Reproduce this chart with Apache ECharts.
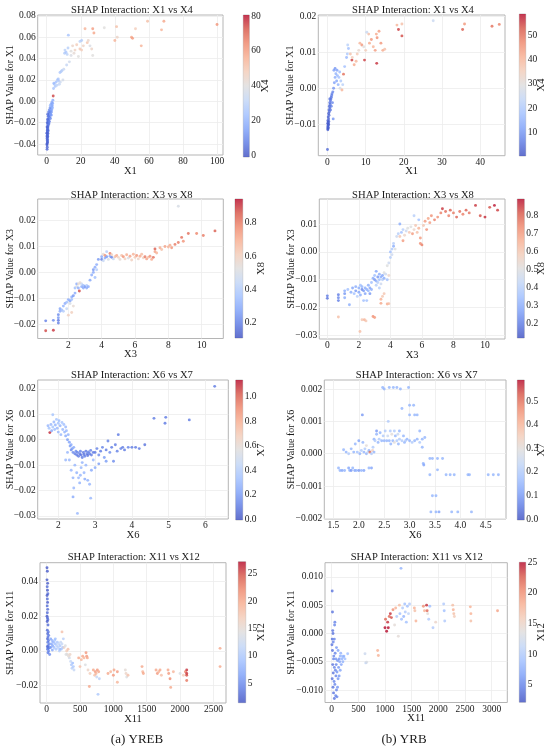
<!DOCTYPE html>
<html><head><meta charset="utf-8">
<script src="https://cdn.jsdelivr.net/npm/echarts@6/dist/echarts.min.js"></script>
<style>html,body{margin:0;padding:0;background:#fff}#c{width:550px;height:749px}</style>
</head><body><div id="c"></div>
<script>
// ---------- data: [x, y, interaction feature value] ----------
const p1 = [[0.2,-0.045,3],[0.3,-0.043,3],[0.2,-0.041,3],[0.4,-0.039,3],[0.3,-0.037,4],[0.5,-0.036,4],[0.2,-0.035,3],[0.4,-0.034,4],[0.6,-0.033,4],[0.3,-0.032,4],[0.5,-0.031,5],[0.7,-0.030,5],[0.3,-0.029,4],[0.6,-0.028,5],[0.8,-0.027,5],[0.4,-0.026,5],[0.7,-0.025,6],[0.5,-0.024,5],[0.9,-0.023,6],[0.6,-0.022,6],[1.0,-0.021,7],[0.7,-0.020,6],[1.2,-0.019,8],[0.8,-0.018,7],[1.4,-0.017,9],[1.0,-0.016,8],[1.6,-0.015,10],[1.2,-0.014,9],[1.8,-0.013,12],[1.4,-0.012,10],[2.0,-0.011,13],[1.1,-0.010,8],[2.3,-0.009,14],[1.5,-0.008,11],[2.6,-0.007,15],[2.0,-0.006,12],[2.9,-0.005,16],[3.2,-0.004,17],[2.5,-0.003,15],[3.5,-0.002,18],[3.0,-0.001,16],[3.6,0.001,18],[3.8,0.005,75],
[0.1,-0.040,2],[0.5,-0.038,3],[0.2,-0.033,3],[0.1,-0.030,2],[0.4,-0.027,4],[0.2,-0.024,3],[0.3,-0.020,4],[0.5,-0.017,5],[0.9,-0.014,7],[0.6,-0.012,5],[1.3,-0.021,8],[1.6,-0.019,9],[2.2,-0.016,11],[2.6,-0.013,13],[1.8,-0.010,10],[2.4,-0.012,15],[3.0,-0.008,18],[3.4,-0.006,20],[2.8,-0.010,14],[2.1,-0.004,22],
[4.0,0.012,25],[4.5,0.016,28],[4.2,0.017,22],[5.0,0.014,26],[5.5,0.018,24],[6.0,0.015,30],[6.2,0.020,28],[6.8,0.021,25],[7.4,0.016,32],[7.0,0.019,27],[8.0,0.018,34],[8.5,0.028,30],[7.8,0.027,26],[9.0,0.029,28],[10.0,0.030,33],[9.5,0.020,36],
[10.5,0.045,28],[10.7,0.048,30],[11.3,0.046,26],[11.7,0.034,32],[12.0,0.044,30],[12.7,0.062,25],[13.3,0.037,35],[12.5,0.050,29],[14.3,0.047,40],[14.3,0.043,38],[15.2,0.052,45],[16.0,0.045,42],[16.6,0.048,46],[17.6,0.053,48],[18.6,0.042,40],[19.5,0.056,30],[19.5,0.049,50],[20.5,0.057,28],[20.5,0.048,48],[21.5,0.052,45],[22.5,0.068,55],[23.8,0.055,50],[24.4,0.057,44],[25.4,0.052,38],[26.4,0.049,45],[27.0,0.068,60],[27.7,0.064,58],[27.0,0.043,40],[33.8,0.069,40],[40.0,0.057,55],[41.0,0.070,52],[41.4,0.060,45],[49.8,0.060,58],[50.4,0.059,60],[52.1,0.068,48],[55.5,0.052,55],[59.2,0.075,52],[67.4,0.067,55],[68.8,0.075,58],[100,0.072,62]];

const p2 = [[0.1,-0.0115,3],[0.2,-0.011,3],[0.1,-0.0105,2],[0.3,-0.010,3],[0.2,-0.0095,3],[0.1,-0.009,2],[0.3,-0.0085,4],[0.2,-0.008,3],[0.4,-0.0075,4],[0.3,-0.007,3],[0.5,-0.0065,4],[0.4,-0.006,4],[0.6,-0.0055,5],[0.5,-0.005,4],[0.7,-0.0045,5],[0.6,-0.004,5],[0.8,-0.0035,6],[0.9,-0.003,6],[1.0,-0.0025,6],[1.1,-0.002,7],[1.2,-0.0015,7],[0.1,-0.0112,2],[0.15,-0.0108,3],[0.25,-0.0102,3],[0.05,-0.0098,2],[0.35,-0.0092,3],[0.0,-0.017,4],[1.5,-0.0085,10],[0.8,-0.006,6],[1.0,-0.005,7],[1.3,-0.004,8],[0.6,-0.003,6],[1.4,-0.001,8],
[1.6,0.000,10],[1.8,0.0015,12],[2.0,0.003,14],[1.7,0.005,12],[2.2,0.004,15],[2.4,0.002,13],[2.6,0.0035,16],[2.8,0.001,15],[3.0,0.003,18],[3.2,0.0045,17],[2.0,0.0055,10],[2.5,0.005,12],[3.5,0.002,20],[3.3,0.000,28],[3.8,-0.0005,40],[4.0,0.001,22],[4.2,0.0039,50],[4.5,0.006,18],[5.0,0.0085,16],[5.2,0.0095,20],[5.5,0.011,18],[5.3,0.012,22],[6.0,0.0095,38],[6.4,0.0078,55],[6.5,0.0085,35],[7.0,0.0065,42],[7.5,0.0075,40],[7.8,0.0095,36],[8.2,0.0105,32],[8.5,0.0125,40],[9.0,0.012,45],[9.5,0.0115,30],[9.7,0.0078,55],[10.0,0.0105,35],[10.3,0.0155,25],[10.8,0.015,38],[11.0,0.0125,42],[11.5,0.0135,45],[12.0,0.0115,40],[12.5,0.0105,44],[12.8,0.015,42],[13.0,0.014,46],[13.5,0.0158,44],[12.9,0.0069,56],[14.0,0.0125,45],[14.5,0.0105,42],[15.0,0.0108,38],
[18.2,0.0175,40],[18.6,0.0163,55],[19.5,0.0178,38],[19.5,0.0145,54],[27.7,0.0187,25],[35.4,0.0163,52],[35.9,0.0178,45],[43.1,0.0172,50],[45.0,0.0177,48]];

const p3 = [[0.64,-0.0187,0.2],[1.1,-0.0185,0.22],[0.64,-0.0225,0.88],[1.1,-0.0223,0.9],
[1.4,-0.0195,0.2],[1.4,-0.0185,0.18],[1.4,-0.0175,0.25],[1.4,-0.0163,0.22],[1.5,-0.0150,0.3],[1.5,-0.0140,0.28],[1.6,-0.0145,0.35],[1.7,-0.0130,0.32],[1.7,-0.0150,0.4],[1.8,-0.0120,0.3],[1.9,-0.0140,0.45],[1.9,-0.0115,0.35],[2.0,-0.0165,0.6],[2.0,-0.0105,0.3],[2.1,-0.0110,0.28],[2.1,-0.0120,0.5],[2.2,-0.0095,0.3],[2.2,-0.0105,0.35],[2.3,-0.0090,0.25],[2.4,-0.0080,0.3],[2.4,-0.0060,0.35],[2.5,-0.0045,0.3],[2.5,-0.0055,0.5],[2.6,-0.0045,0.55],[2.6,-0.0060,0.3],[2.66,-0.0072,0.88],[2.7,-0.0040,0.55],[2.8,-0.0055,0.3],[2.8,-0.0045,0.45],[2.9,-0.0060,0.3],[2.9,-0.0050,0.35],[3.0,-0.0055,0.25],[3.1,-0.0060,0.3],[3.1,-0.0050,0.4],[3.2,-0.0055,0.3],[2.2,-0.0155,0.6],[2.3,-0.0130,0.55],
[3.3,-0.0030,0.28],[3.4,-0.0010,0.3],[3.5,0.0000,0.3],[3.5,0.0010,0.25],[3.6,-0.0020,0.35],[3.6,0.0020,0.3],[3.7,0.0010,0.4],[3.7,0.0030,0.3],[3.8,0.0050,0.25],
[4.0,0.0060,0.3],[4.0,0.0050,0.2],[4.1,0.0045,0.45],[4.1,0.0070,0.55],[4.2,0.0055,0.3],[4.2,0.0065,0.75],[4.3,0.0060,0.25],[4.3,0.0080,0.4],[4.4,0.0050,0.5],[4.5,0.0062,0.3],[4.5,0.0073,0.8],[4.6,0.0058,0.2],[4.6,0.0068,0.6],[4.7,0.0052,0.45],[4.8,0.0060,0.65],[4.9,0.0065,0.7],[5.0,0.0058,0.6],[5.1,0.0050,0.55],[5.2,0.0065,0.65],[5.3,0.0060,0.75],[5.4,0.0052,0.6],[5.5,0.0068,0.7],[5.6,0.0055,0.5],[5.7,0.0062,0.72],[5.8,0.0048,0.6],[5.9,0.0070,0.68],[6.0,0.0058,0.62],[6.1,0.0065,0.75],[6.2,0.0052,0.58],[6.3,0.0062,0.7],[6.4,0.0070,0.66],[6.5,0.0056,0.6],[6.6,0.0060,0.8],[6.7,0.0052,0.72],[6.8,0.0058,0.65],[6.9,0.0062,0.75],[7.0,0.0050,0.7],[7.1,0.0058,0.82],
[7.2,0.0090,0.85],[7.2,0.0080,0.72],[7.3,0.0075,0.68],[7.5,0.0095,0.7],[7.6,0.0088,0.65],[7.8,0.0100,0.72],[8.0,0.0098,0.68],[8.1,0.0105,0.7],[8.2,0.0095,0.75],[8.4,0.0108,0.8],[8.6,0.0115,0.8],[8.8,0.0135,0.82],[8.9,0.0120,0.75],[9.2,0.0150,0.82],[9.7,0.0150,0.78],[10.1,0.0142,0.8],[10.8,0.0160,0.85],[8.6,0.0255,0.5]];

const p4 = [[0.0,-0.0158,0.2],[0.0,-0.0167,0.18],[0.7,-0.0154,0.2],[0.7,-0.0165,0.22],[0.7,-0.0175,0.2],[0.7,-0.0234,0.62],
[1.1,-0.0140,0.3],[1.1,-0.0150,0.25],[1.1,-0.0165,0.3],[1.3,-0.0135,0.35],[1.4,-0.0190,0.3],[1.5,-0.0145,0.3],[1.6,-0.0130,0.28],[1.7,-0.0150,0.35],[1.8,-0.0125,0.3],[1.8,-0.0140,0.25],[1.9,-0.0160,0.4],[2.0,-0.0130,0.3],[2.0,-0.0145,0.28],[2.1,-0.0120,0.35],[2.1,-0.0155,0.3],[2.2,-0.0135,0.22],[2.2,-0.0125,0.32],[2.3,-0.0140,0.25],[2.3,-0.0175,0.35],[2.4,-0.0130,0.3],[2.4,-0.0150,0.28],[2.5,-0.0135,0.3],[2.5,-0.0175,0.35],[2.6,-0.0140,0.32],[2.6,-0.0120,0.3],[2.7,-0.0130,0.28],[2.7,-0.0150,0.25],[2.8,-0.0135,0.3],[2.8,-0.0110,0.35],
[2.07,-0.0286,0.62],[2.2,-0.0244,0.6],[2.35,-0.0244,0.65],[2.45,-0.0248,0.6],[2.9,-0.0232,0.72],[3.0,-0.0236,0.7],
[2.9,-0.0095,0.3],[3.0,-0.0100,0.25],[3.0,-0.0085,0.35],[3.1,-0.0105,0.3],[3.1,-0.0070,0.28],[3.2,-0.0090,0.25],[3.2,-0.0110,0.4],[3.3,-0.0080,0.3],[3.3,-0.0100,0.35],[3.4,-0.0090,0.3],[3.4,-0.0115,0.45],[3.5,-0.0085,0.28],[3.5,-0.0100,0.4],[3.6,-0.0075,0.5],[3.6,-0.0095,0.3],[3.7,-0.0080,0.45],[3.8,-0.0100,0.35],[3.9,-0.0085,0.55],[3.3,-0.0130,0.4],[3.1,-0.0120,0.4],
[3.4,-0.0170,0.65],[3.4,-0.0185,0.68],[3.5,-0.0160,0.6],[3.8,-0.0187,0.66],[3.9,-0.0186,0.62],[3.6,-0.0150,0.6],
[3.8,-0.0050,0.5],[3.9,-0.0040,0.45],[4.0,-0.0020,0.4],[4.0,0.0000,0.35],[4.1,0.0010,0.38],[4.1,-0.0010,0.45],[4.2,0.0020,0.3],[4.2,0.0030,0.4],[4.3,0.0010,0.5],
[4.4,0.0055,0.45],[4.5,0.0065,0.4],[4.6,0.0055,0.6],[4.7,0.0070,0.35],[4.8,0.0040,0.7],[4.8,0.0080,0.4],[4.9,0.0060,0.55],[5.0,0.0075,0.45],[5.1,0.0085,0.5],[5.2,0.0070,0.6],[5.3,0.0090,0.5],[5.4,0.0065,0.7],[5.5,0.0080,0.55],[5.6,0.0095,0.6],[5.7,0.0070,0.62],[5.8,0.0085,0.65],[5.9,0.0050,0.7],[5.9,0.0030,0.72],[6.0,0.0025,0.75],[6.1,0.0095,0.6],[6.2,0.0110,0.7],[6.3,0.0080,0.72],[6.4,0.0120,0.68],[6.5,0.0105,0.7],[6.6,0.0130,0.72],[6.8,0.0115,0.75],[7.0,0.0125,0.72],[7.2,0.0140,0.75],[7.3,0.0155,0.85],[7.5,0.0145,0.78],[7.7,0.0130,0.75],[7.8,0.0150,0.8],[8.0,0.0140,0.76],[8.2,0.0125,0.8],[8.4,0.0145,0.78],[8.6,0.0135,0.75],[8.8,0.0150,0.8],[9.0,0.0140,0.77],[9.4,0.0167,0.85],[9.7,0.0130,0.82],[10.0,0.0125,0.86],[10.3,0.0160,0.82],[10.6,0.0167,0.88],[10.8,0.0150,0.84],[5.5,0.0130,0.4],[5.8,0.0115,0.35],[4.6,0.0100,0.3]];

const p5 = [[1.72,0.0055,0.3],[1.75,0.0045,0.35],[1.77,0.0028,1.1],[1.8,0.0060,0.3],[1.82,0.0035,0.25],[1.85,0.0050,0.35],[1.85,0.0098,0.35],[1.88,0.0070,0.3],[1.9,0.0040,0.32],[1.92,0.0058,0.28],[1.95,0.0080,0.35],[1.97,0.0045,0.3],[2.0,0.0065,0.35],[2.0,0.0030,0.3],[2.02,0.0075,0.32],[2.05,0.0055,0.28],[2.07,0.0020,0.3],[2.1,0.0068,0.35],[2.12,0.0040,0.3],[2.15,0.0060,0.33],[2.17,0.0030,0.28],[2.2,0.0050,0.3],[2.2,0.0015,0.25],[2.22,0.0035,0.3],[2.25,0.0000,0.2],[2.27,0.0020,0.28],[2.3,-0.0010,0.22],[2.32,-0.0025,0.2],[2.35,-0.0040,0.15],[2.35,-0.0020,0.25],[2.38,-0.0035,0.2],[2.4,-0.0050,0.15],[2.42,-0.0030,0.25],[2.45,-0.0055,0.12],[2.48,-0.0045,0.15],[2.5,-0.0060,0.1],[2.52,-0.0050,0.12],[2.55,-0.0065,0.1],[2.58,-0.0055,0.1],[2.6,-0.0045,0.12],[2.62,-0.0060,0.08],[2.65,-0.0070,0.1],[2.68,-0.0050,0.1],[2.7,-0.0058,0.08],[2.72,-0.0065,0.12],[2.75,-0.0045,0.1],[2.78,-0.0055,0.1],[2.8,-0.0062,0.08],[2.82,-0.0048,0.12],[2.85,-0.0055,0.1],[2.88,-0.0042,0.12],[2.9,-0.0060,0.1],[2.95,-0.0050,0.1],
[2.3,-0.0080,0.3],[2.35,-0.0120,0.3],[2.4,-0.0150,0.28],[2.42,-0.0190,0.3],[2.4,-0.0225,0.25],[2.45,-0.0100,0.3],[2.5,-0.0130,0.28],[2.52,-0.0290,0.3],[2.55,-0.0150,0.3],[2.58,-0.0170,0.28],[2.6,-0.0140,0.3],[2.62,-0.0110,0.3],[2.65,-0.0090,0.28],[2.7,-0.0130,0.3],[2.72,-0.0155,0.25],[2.75,-0.0100,0.3],[2.8,-0.0160,0.28],[2.85,-0.0175,0.3],[2.88,-0.0230,0.3],[2.9,-0.0120,0.25],[2.95,-0.0080,0.3],[2.2,-0.0080,0.3],[2.25,-0.0050,0.3],
[3.0,-0.0050,0.1],[3.05,-0.0035,0.12],[3.1,-0.0060,0.15],[3.15,-0.0045,0.1],[3.2,-0.0030,0.12],[3.25,-0.0070,0.2],[3.3,-0.0040,0.1],[3.35,-0.0005,0.12],[3.4,-0.0050,0.15],[3.45,-0.0030,0.1],[3.5,-0.0085,0.15],[3.55,-0.0020,0.1],[3.6,-0.0045,0.12],[3.63,0.0020,0.1],[3.7,-0.0035,0.12],[3.75,-0.0030,0.1],[3.8,-0.0040,0.1],[3.9,-0.0030,0.12],[4.0,-0.0030,0.1],[4.1,-0.0030,0.1],[4.2,-0.0035,0.1],[4.35,-0.0020,0.08],[3.0,-0.0110,0.25],[3.1,-0.0095,0.2],[3.3,-0.0085,0.2],
[4.6,0.0084,0.1],[4.9,0.0065,0.1],[4.92,0.0088,0.1],[5.56,0.0078,0.1],[6.25,0.0210,0.1]];

const p6 = [[1.6,-0.00044,0.15],[1.63,-0.00052,0.15],[1.67,-0.00052,0.12],[1.7,0.00012,0.15],[1.72,-0.00052,0.15],[1.75,0.00005,0.15],[1.8,-0.00044,0.12],[1.8,0.00000,0.2],[1.82,-0.00052,0.15],[1.85,0.00015,0.15],[1.85,-0.00052,0.1],[1.88,-0.00044,0.15],[1.9,0.00005,0.15],[1.92,-0.00052,0.12],[1.93,0.00030,0.15],[1.95,-0.00052,0.15],[1.97,0.00005,0.18],[2.0,0.00040,0.12],[2.0,-0.00052,0.1],[2.02,0.00000,0.15],[2.05,0.00010,0.2],[2.05,-0.00052,0.15],[2.07,0.00120,0.1],[2.08,0.00035,0.15],[2.1,0.00005,0.15],[2.1,-0.00052,0.12],[2.12,0.00015,0.2],[2.15,0.00000,0.15],[2.15,0.00025,0.3],[2.18,0.00005,0.25],[2.2,0.00010,0.15],[2.2,-0.00044,0.15],[2.22,0.00005,0.5],[2.25,0.00000,0.2],[2.25,-0.00044,0.12],[2.27,0.00010,0.35],[2.28,0.00020,0.2],[2.3,0.00005,0.15],[2.3,0.00045,0.15],[2.32,0.00040,0.2],[2.35,0.00060,0.15],[2.35,0.00070,0.1],[2.38,0.00035,0.15],[2.4,0.00045,0.2],[2.42,0.00065,0.15],[2.45,0.00040,0.15],[2.47,0.00205,0.15],[2.48,0.00055,0.2],[2.5,0.00040,0.15],[2.5,0.00200,0.15],[2.52,0.00070,0.2],[2.55,0.00040,0.15],[2.57,0.00055,0.25],[2.58,0.00100,0.2],[2.6,0.00040,0.15],[2.6,0.00205,0.15],[2.62,0.00070,0.2],[2.63,0.00030,0.15],[2.65,0.00060,0.3],[2.67,0.00040,0.15],[2.68,0.00205,0.15],[2.7,0.00070,0.2],[2.7,0.00035,0.3],[2.72,0.00055,0.15],[2.75,0.00040,0.2],[2.75,0.00205,0.15],[2.77,0.00060,0.25],[2.78,0.00030,0.15],[2.8,0.00045,0.2],[2.8,0.00070,0.15],[2.82,0.00200,0.15],[2.85,0.00140,0.15],[2.85,0.00040,0.2],[2.88,0.00055,0.15],[2.9,0.00035,0.15],[2.92,0.00040,0.2],[2.95,0.00045,0.15],[2.98,0.00205,0.15],[3.0,0.00150,0.15],[3.0,0.00120,0.15],[3.0,0.00040,0.15],[3.05,0.00035,0.2],[3.08,0.00150,0.15],[3.1,0.00120,0.15],[3.1,0.00040,0.15],[3.15,0.00120,0.15],[3.15,0.00045,0.15],[3.2,0.00070,0.15],[3.2,0.00035,0.2],[3.25,0.00045,0.15],[3.25,0.00020,0.15],[3.27,-0.00030,0.15],[3.3,0.00050,0.15],[3.28,-0.00035,0.12],
[3.4,-0.00015,0.15],[3.45,-0.00015,0.15],[3.4,-0.00065,0.15],[3.45,-0.00130,0.15],[3.52,-0.00130,0.15],[3.42,-0.00180,0.15],[3.52,-0.00180,0.15],[3.58,-0.00180,0.12],[3.55,-0.00015,0.15],[3.55,-0.00050,0.15],[3.65,-0.00015,0.15],[3.72,-0.00065,0.15],[3.8,-0.00065,0.15],[3.88,-0.00065,0.15],[3.83,-0.00180,0.15],[3.95,-0.00180,0.15],[4.15,-0.00065,0.15],[4.18,-0.00065,0.15],[4.22,-0.00180,0.15],[4.55,-0.00065,0.15],[4.65,-0.00065,0.15],[4.75,-0.00065,0.15]];

const p7 = [[5,0.048,2],[10,0.046,2],[5,0.041,2],[15,0.039,2],[8,0.037,3],[12,0.035,2],[18,0.033,3],[6,0.032,2],[10,0.030,3],[14,0.028,2],[8,0.026,3],[16,0.024,3],[10,0.022,3],[5,0.020,2],[12,0.019,3],[18,0.018,3],[8,0.017,2],[20,0.015,3],[10,0.012,3],[25,0.011,4],[15,0.010,3],[30,0.009,4],[20,0.008,4],[12,0.007,3],[28,0.006,4],[18,0.005,4],[35,0.004,5],[22,0.003,4],[40,0.002,5],[15,0.001,4],[30,0.000,5],[20,-0.001,4],[45,-0.002,5],[25,0.0015,4],[10,0.0025,3],
[60,0.007,7],[70,0.004,7],[80,0.006,8],[90,0.003,7],[100,0.005,8],[110,0.002,9],[120,0.006,10],[130,0.004,9],[140,0.001,10],[150,0.003,11],[160,0.005,10],[170,0.002,11],[180,0.004,12],[190,0.000,11],[200,0.003,10],[210,0.005,12],[220,0.001,11],[230,0.004,12],[240,0.002,10],[250,0.007,11],[60,0.002,6],[85,0.0005,7],[130,0.007,9],[200,0.001,9],
[230,0.011,18],[260,0.002,16],[280,0.003,14],[300,0.000,17],[310,-0.002,15],[320,0.001,18],[340,-0.004,13],[350,-0.002,16],[360,-0.006,12],[370,-0.008,10],[380,-0.010,11],[390,-0.007,9],[400,-0.009,10],[410,-0.011,12],[330,-0.003,15],[290,-0.002,14],
[480,-0.004,20],[500,-0.009,18],[520,-0.005,19],[540,-0.003,20],[560,-0.004,19],[580,-0.008,14],[590,-0.001,21],[600,-0.003,21],[610,-0.004,20],[620,-0.011,16],[640,-0.0205,20],[650,-0.013,17],[700,-0.011,20],[720,-0.014,18],[730,-0.012,21],[740,-0.013,19],[750,-0.015,12],[760,-0.011,21],[770,-0.025,10],[780,-0.012,20],[790,-0.016,11],
[920,-0.013,20],[960,-0.012,19],[1000,-0.014,21],[1010,-0.011,20],[1060,-0.012,21],[1060,-0.018,19],[1180,-0.011,15],[1190,-0.013,16],[1200,-0.015,14],[1220,-0.014,18],[1430,-0.009,20],[1440,-0.012,19],[1450,-0.013,20],[1640,-0.011,20],[1660,-0.013,21],[1680,-0.012,19],[1700,-0.011,20],[1720,-0.014,18],[1820,-0.011,20],[1830,-0.013,21],[1850,-0.016,22],[1860,-0.021,20],[1900,-0.012,19],[2000,-0.013,14],[2050,-0.014,17],[2080,-0.012,22],[2100,-0.011,26],[2100,-0.013,26],[2100,-0.014,25],[2100,-0.017,23],[2600,0.0015,20],[2600,-0.009,20]];

const p8 = [[10,0.0075,4],[15,0.0038,4],[20,0.0005,4],[25,0.0000,4],[10,-0.0010,4],[30,-0.0015,5],[50,-0.0010,5],[60,0.0020,5],[55,0.0015,5],[15,-0.0030,4],[40,-0.0040,5],[20,-0.0055,4],[50,-0.0060,5],[30,-0.0070,4],[70,-0.0065,5],[10,-0.0080,4],[45,-0.0085,5],[80,-0.0075,5],[25,-0.0095,4],[60,-0.0090,5],[90,-0.0100,5],[35,-0.0105,4],[75,-0.0110,5],[100,-0.0112,5],[50,-0.0115,4],[110,-0.0095,6],[120,-0.0080,6],[130,-0.0060,6],[140,-0.0045,6],[150,-0.0050,7],[160,-0.0040,8],[170,-0.0035,8],[180,-0.0055,7],[190,-0.0045,8],[200,-0.0040,9],[210,-0.0050,8],[220,-0.0042,9],[230,-0.0040,8],[250,-0.0045,9],[300,-0.0036,9],[90,-0.0025,6],[110,-0.0048,6],[65,-0.0035,5],[85,-0.0055,5],[100,-0.0068,6],[140,-0.0075,6],[160,-0.0065,7],[5,-0.0020,4],[35,-0.0045,5],[120,-0.0030,7],[80,-0.0045,6],
[625,-0.0036,12],[640,-0.0052,11],[656,-0.0051,13],[862,-0.0030,18],[875,-0.0039,18],
[1000,0.0010,25],[1010,0.0025,22],[1031,0.0004,25],[1050,0.0020,24],[1062,0.0010,25],[1080,0.0030,22],[1100,0.0035,24],[1120,0.0028,23],[1150,0.0042,20],[1180,0.0015,14],[1200,0.0045,18],[1220,0.0030,10],[1250,-0.0005,14],[1270,0.0050,17],[1280,0.0035,9],[1300,0.0115,8],[1310,0.0025,9],[1330,0.0045,10],[1350,0.0030,8],[1370,0.0052,9],[1380,0.0038,10],[1400,0.0020,9],[1420,0.0048,9],[1440,0.0035,11],[1460,0.0052,10],[1550,0.0045,18],[1560,0.0040,17],[1580,0.0022,18],[1720,0.0048,20],[1740,0.0040,18],[1780,0.0050,24],[1790,0.0040,22],[1800,0.0035,14],[1820,0.0025,10],[1840,0.0048,9],[1900,0.0010,10],[1950,0.0020,15],[2100,0.0052,10],[2110,0.0040,9],[2120,0.0022,10],[2270,0.0050,17],[2280,0.0042,18],[2290,0.0035,17],[2300,0.0030,16],[2600,0.0047,18],[2610,0.0035,18],[2610,0.0022,17],[3110,0.0040,19]];

// ---------- tick values ----------
const xTicks = [[0,20,40,60,80,100],[0,10,20,30,40],[2,4,6,8,10],[0,2,4,6,8,10],[2,3,4,5,6],[1.5,2,2.5,3,3.5,4,4.5],[0,500,1000,1500,2000,2500],[0,500,1000,1500,2000,2500,3000]];
const yTicks = [[-0.04,-0.02,0,0.02,0.04,0.06,0.08],[-0.01,0,0.01,0.02],[-0.02,-0.01,0,0.01,0.02],[-0.03,-0.02,-0.01,0,0.01],[-0.03,-0.02,-0.01,0,0.01,0.02],[-0.002,-0.001,0,0.001,0.002],[-0.02,0,0.02,0.04],[-0.01,-0.005,0,0.005,0.01]];
const cTicks = [[0,20,40,60,80],[10,20,30,40,50],[0.2,0.4,0.6,0.8],[0.2,0.3,0.4,0.5,0.6,0.7,0.8],[0,0.2,0.4,0.6,0.8,1.0],[0,0.1,0.2,0.3,0.4,0.5],[5,10,15,20,25],[5,10,15,20,25]];
const xDec = [0,0,0,0,0,1,0,0];
const yDec = [2,2,2,2,2,3,2,3];
const cDec = [0,0,1,1,1,1,0,0];
// axis extents (data units)
const xRange = [[-5.3,103.5],[-2.4,46.5],[0.16,11.3],[-0.51,11.27],[1.44,6.62],[1.32,4.90],[-100,2689],[-125,3293]];
const yRange = [[-0.0503,0.0809],[-0.0187,0.0203],[-0.0255,0.0283],[-0.0313,0.019],[-0.0312,0.0235],[-0.00202,0.00228],[-0.03,0.0509],[-0.0122,0.0125]];
const cRange = [[-1,80.6],[0.45,58.6],[0.108,0.942],[0.119,0.889],[-0.008,1.137],[-0.004,0.589],[1.45,27.25],[2.18,25.0]];
// ---------- text ----------
const mainFeat = ['X1','X1','X3','X3','X6','X6','X11','X11'];
const interFeat = ['X4','X4','X8','X8','X7','X7','X12','X12'];
const captions = ['(a) YREB','(b) YRB'];
const seriesData = [p1,p2,p3,p4,p5,p6,p7,p8];

// ---------- layout (px) ----------
const layout = [
 {plot:[37.7,15,223,155],     cb:[243.3,15,249.3,157],    tY:10,  tX:132,   yn:10},
 {plot:[318.3,15,505,155.7],  cb:[519.3,14,525.7,156],    tY:10,  tX:413,   yn:290},
 {plot:[37.7,199,223.3,338.5],cb:[235,199,242.7,338],     tY:195, tX:131.7, yn:10},
 {plot:[319.3,199,505,339],   cb:[517.3,199,524.3,338],   tY:195, tX:413,   yn:291},
 {plot:[37.7,380,228.3,519],  cb:[235.7,380,242.7,520],   tY:375, tX:132,   yn:10},
 {plot:[324.3,380,506,519],   cb:[517.3,380,524.3,520],   tY:375, tX:416.7, yn:291.7},
 {plot:[40,562.7,226,703],    cb:[238.3,561.7,245.7,702.7],tY:557, tX:133.7, yn:10},
 {plot:[325,562.7,507.3,702.5],cb:[519.3,562.3,525.7,702.3],tY:557,tX:416.7, yn:291}
];
const cbNameX = [265,541.7,261.7,541.7,261.7,541.7,261.7,541.7];
const xNameGap = 16;
const captionPos = [[137,740],[404,740]];

const FONT = '"Liberation Serif","Times New Roman",serif';
const TXT = '#1a1a1a';
const COOLWARM = ['#3b4cc0','#5977e3','#7b9ff9','#9ebeff','#c0d4f5','#dddcdc','#f2cbb7','#f7ac8e','#ee8468','#d65244','#b40426'];
const fmt = d => v => { const s = Number(v).toFixed(d); return (Math.abs(v) < 1e-12 ? (0).toFixed(d) : s).replace('-', '\u2212'); };
const txt = (text, x, y, size, rot) => ({type: 'text', x, y, rotation: rot || 0, silent: true,
  style: {text, fontFamily: FONT, fontSize: size, fill: TXT, align: 'center', verticalAlign: 'middle', textAlign: 'center', textVerticalAlign: 'middle'}});

const grid = [], xAxis = [], yAxis = [], series = [], visualMap = [], graphic = [];
const gradStops = COOLWARM.slice().reverse().map((c, i) => ({offset: i / 10, color: c}));

layout.forEach((L, i) => {
  const [l, t, r, b] = L.plot;
  grid.push({left: l, top: t, width: r - l, height: b - t, show: true, borderColor: '#b5b5b5', borderWidth: 1});
  xAxis.push({gridIndex: i, type: 'value', min: xRange[i][0], max: xRange[i][1],
    axisLine: {show: false}, axisTick: {show: false, customValues: xTicks[i]},
    axisLabel: {customValues: xTicks[i], formatter: fmt(xDec[i]), fontFamily: FONT, fontSize: 9.5, color: TXT, margin: 1.5},
    splitLine: {show: true, lineStyle: {color: '#ececec', width: 0.8}}});
  yAxis.push({gridIndex: i, type: 'value', min: yRange[i][0], max: yRange[i][1],
    axisLine: {show: false}, axisTick: {show: false, customValues: yTicks[i]},
    axisLabel: {customValues: yTicks[i], formatter: fmt(yDec[i]), fontFamily: FONT, fontSize: 9.5, color: TXT, margin: 2},
    splitLine: {show: true, lineStyle: {color: '#ececec', width: 0.8}}});
  series.push({type: 'scatter', xAxisIndex: i, yAxisIndex: i, data: seriesData[i], symbolSize: 2.9,
    itemStyle: {opacity: 0.78}, silent: true, animation: false});
  visualMap.push({type: 'continuous', show: false, seriesIndex: i, dimension: 2,
    min: cRange[i][0], max: cRange[i][1], inRange: {color: COOLWARM}});
  graphic.push(txt('SHAP Interaction: ' + mainFeat[i] + ' vs ' + interFeat[i], L.tX, L.tY, 10.6));
  graphic.push(txt(mainFeat[i], (l + r) / 2, b + xNameGap, 10.5));
  graphic.push(txt('SHAP Value for ' + mainFeat[i], L.yn, (t + b) / 2, 10, Math.PI / 2));
});

layout.forEach((L, i) => {
  const k = i + 8;
  const [l, t, r, b] = L.cb;
  grid.push({left: l, top: t, width: r - l, height: b - t, show: true, borderColor: '#a8a8a8', borderWidth: 0.6});
  xAxis.push({gridIndex: k, type: 'value', min: 0, max: 1, show: false});
  yAxis.push({gridIndex: k, type: 'value', position: 'right', min: cRange[i][0], max: cRange[i][1],
    axisLine: {show: false}, axisTick: {show: false, customValues: cTicks[i]}, splitLine: {show: false},
    axisLabel: {customValues: cTicks[i], formatter: fmt(cDec[i]), fontFamily: FONT, fontSize: 9.5, color: TXT, margin: 2}});
  series.push({type: 'custom', xAxisIndex: k, yAxisIndex: k, silent: true, animation: false,
    data: [[0, cRange[i][0], cRange[i][1]]],
    renderItem: (params, api) => {
      const cs = params.coordSys;
      const top = api.coord([0, api.value(2)]);
      const bot = api.coord([0, api.value(1)]);
      return {type: 'rect', shape: {x: cs.x, y: top[1], width: cs.width, height: bot[1] - top[1]},
        style: {fill: new echarts.graphic.LinearGradient(0, 0, 0, 1, gradStops), opacity: 0.8}};
    }});
  graphic.push(txt(interFeat[i], cbNameX[i], (t + b) / 2, 10.5, Math.PI / 2));
});

captions.forEach((c, i) => graphic.push(txt(c, captionPos[i][0], captionPos[i][1], 13)));

const chart = echarts.init(document.getElementById('c'), null, {renderer: 'canvas'});
chart.setOption({backgroundColor: '#ffffff', animation: false, grid, xAxis, yAxis, series, visualMap, graphic});
</script></body></html>
